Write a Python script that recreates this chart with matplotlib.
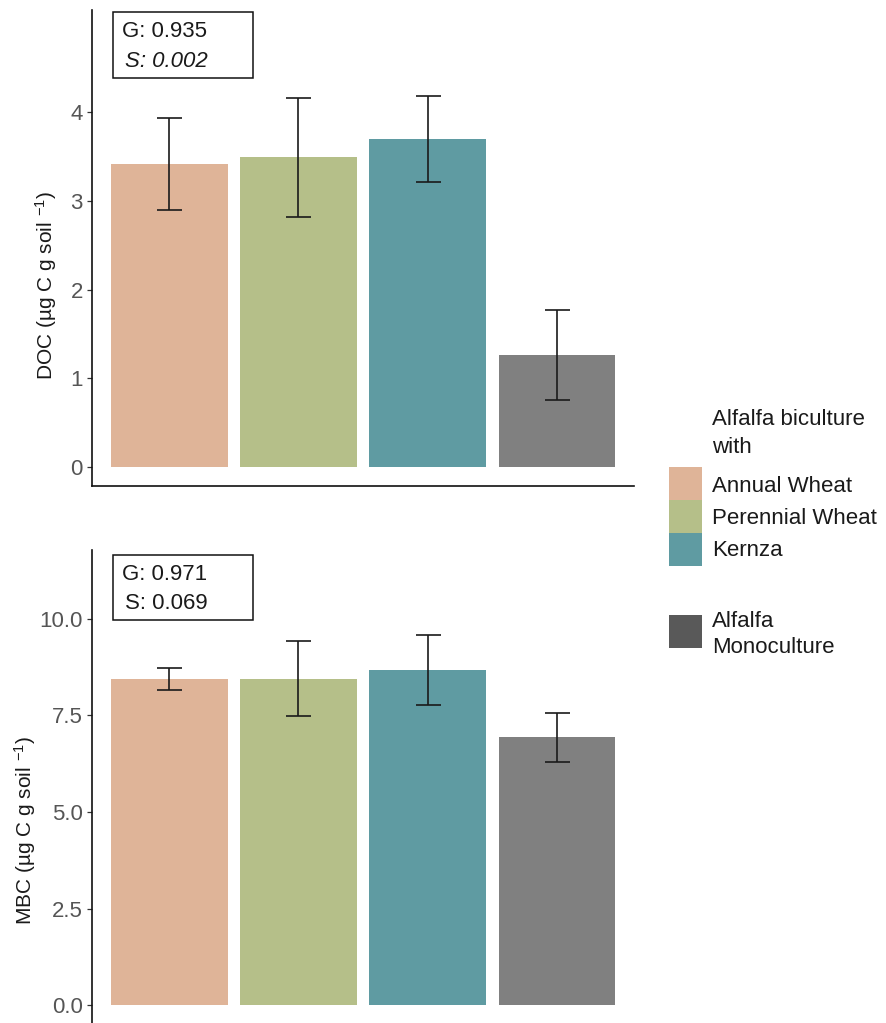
import matplotlib
matplotlib.use("Agg")
import matplotlib.pyplot as plt
from matplotlib.patches import Rectangle

plt.rcParams['font.family'] = ['Liberation Sans', 'DejaVu Sans']
plt.rcParams['mathtext.fontset'] = 'custom'
plt.rcParams['mathtext.rm'] = 'Liberation Sans'
plt.rcParams['mathtext.it'] = 'Liberation Sans:italic'

# ---- data ----
treatments = ["Annual Wheat", "Perennial Wheat", "Kernza", "Alfalfa Monoculture"]
doc_mean = [3.42, 3.49, 3.70, 1.26]
doc_low = [2.90, 2.82, 3.21, 0.76]
doc_high = [3.93, 4.16, 4.18, 1.77]
mbc_mean = [8.43, 8.43, 8.67, 6.93]
mbc_low = [8.17, 7.49, 7.78, 6.30]
mbc_high = [8.73, 9.42, 9.59, 7.56]
doc_stats = ["G: 0.935", "S: 0.002"]
mbc_stats = ["G: 0.971", "S: 0.069"]
doc_ticks = [0, 1, 2, 3, 4]
mbc_ticks = [0.0, 2.5, 5.0, 7.5, 10.0]
legend_title = ["Alfalfa biculture", "with"]
mono_label = ["Alfalfa", "Monoculture"]

bar_colors = ["#DFB498", "#B5BF89", "#5F9BA2", "#808080"]
key_colors = ["#DFB498", "#B5BF89", "#5F9BA2", "#595959"]

W, H = 886, 1023
fig = plt.figure(figsize=(W / 100, H / 100), dpi=100)

def ax_rect(l, t, r, b):
    return [l / W, 1 - b / H, (r - l) / W, (b - t) / H]

ax1 = fig.add_axes(ax_rect(92, 10, 634, 486))
ax2 = fig.add_axes(ax_rect(92, 550, 634, 1027))

FS = 16
TXT = '#1a1a1a'
x = list(range(1, len(treatments) + 1))

def draw(ax, mean, low, high, ylim, ticks, ticklabels, ylabel, stats, italic_s, box, base, label_xy):
    ax.bar(x, mean, width=0.9, color=bar_colors, zorder=1)
    yerr = [[m - l for m, l in zip(mean, low)], [h - m for m, h in zip(mean, high)]]
    ax.errorbar(x, mean, yerr=yerr, fmt='none', ecolor='#1a1a1a', elinewidth=1.2,
                capsize=9, capthick=1.2, zorder=3)
    ax.set_xlim(0.4, 4.6)
    ax.set_ylim(*ylim)
    ax.set_yticks(ticks)
    ax.set_yticklabels(ticklabels)
    ax.set_xticks([])
    for s in ['top', 'right']:
        ax.spines[s].set_visible(False)
    for s in ['left', 'bottom']:
        ax.spines[s].set_linewidth(1.2)
        ax.spines[s].set_color('#111111')
    ax.tick_params(axis='y', length=3.6, width=0.9, color='#333333', pad=3,
                   labelsize=FS, labelcolor='#555555')
    ax.set_ylabel(ylabel, fontsize=15, color=TXT)
    ax.yaxis.set_label_coords(*label_xy)
    # stats box
    x0, y0, x1, y1 = box
    ax.add_patch(Rectangle((x0, y0), x1 - x0, y1 - y0, transform=ax.transAxes,
                           fill=False, edgecolor='#111111', linewidth=1.1, clip_on=False, zorder=4))
    ax.text(0.0554, base[0], stats[0], transform=ax.transAxes,
            fontsize=FS, va='baseline', ha='left', color=TXT)
    ax.text(0.0600, base[1], stats[1], transform=ax.transAxes,
            fontsize=FS, va='baseline', ha='left', color=TXT,
            style='italic' if italic_s else 'normal')

draw(ax1, doc_mean, doc_low, doc_high, (-0.214, 5.15), doc_ticks,
     [str(t) for t in doc_ticks], r'DOC (µg C g soil $^{-1}$)', doc_stats, True,
     (0.0387, 0.857, 0.297, 0.9958), (0.943, 0.880), (-0.061, 0.422))
draw(ax2, mbc_mean, mbc_low, mbc_high, (-0.56, 11.78), mbc_ticks,
     [f"{t:.1f}" for t in mbc_ticks], r'MBC (µg C g soil $^{-1}$)', mbc_stats, False,
     (0.0387, 0.853, 0.297, 0.9895), (0.937, 0.876), (-0.100, 0.411))

# ---- legend (manual) ----
def fx(px):
    return px / W

def fy(py):
    return 1 - py / H

for line, b in zip(legend_title, [425, 453]):
    fig.text(fx(712), fy(b), line, fontsize=FS, ha='left', va='baseline', color=TXT)
row_tops = [467, 500, 533]
row_base = [492, 524, 556]
for i in range(3):
    t = row_tops[i]
    fig.add_artist(Rectangle((fx(669), fy(t + 32.7)), 33 / W, 32.7 / H,
                             transform=fig.transFigure, facecolor=key_colors[i], edgecolor='none'))
    fig.text(fx(712), fy(row_base[i]), treatments[i], fontsize=FS, ha='left', va='baseline',
             color=TXT)
fig.add_artist(Rectangle((fx(669), fy(648)), 33 / W, 33 / H,
                         transform=fig.transFigure, facecolor=key_colors[3], edgecolor='none'))
for line, b in zip(mono_label, [627, 653]):
    fig.text(fx(712), fy(b), line, fontsize=FS, ha='left', va='baseline', color=TXT)

fig.savefig("out.png", dpi=100)
